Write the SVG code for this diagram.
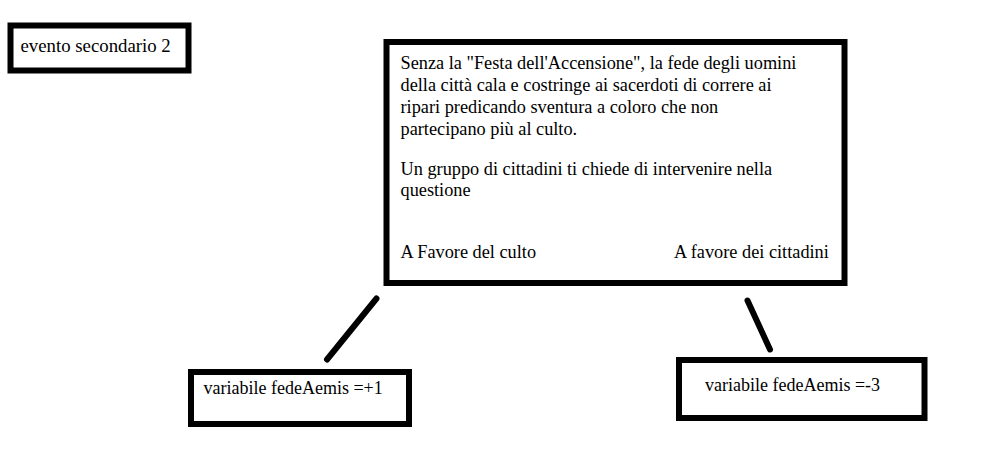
<svg xmlns="http://www.w3.org/2000/svg" width="991" height="464" viewBox="0 0 991 464">
<style>
.box{fill:#fff;stroke:#000;stroke-width:6}
text{font-family:'Liberation Serif','Times New Roman',serif;font-size:18px;fill:#000}
.m{font-size:18.3px}
.e{font-size:18.8px}
.c{stroke:#000;stroke-width:6;stroke-linecap:round;fill:none}
</style>
<rect width="991" height="464" fill="#fff"/>
<g id="n-evento">
<rect class="box" x="10.5" y="25.5" width="178" height="45"/>
<text class="e" x="20.5" y="52">evento secondario 2</text>
</g>
<g id="n-main">
<rect class="box" x="386.5" y="42" width="458" height="241"/>
<text class="m" x="400.5" y="69">Senza la "Festa dell'Accensione", la fede degli uomini</text>
<text class="m" x="400.5" y="91">della città cala e costringe ai sacerdoti di correre ai</text>
<text class="m" x="400.5" y="113">ripari predicando sventura a coloro che non</text>
<text class="m" x="400.5" y="134.5">partecipano più al culto.</text>
<text class="m" x="400.5" y="175">Un gruppo di cittadini ti chiede di intervenire nella</text>
<text class="m" x="400.5" y="196">questione</text>
<text class="m" x="400.5" y="258">A Favore del culto</text>
<text class="m" x="674" y="258">A favore dei cittadini</text>
</g>
<g id="n-plus">
<rect class="box" x="191" y="372" width="218" height="52"/>
<text x="203.5" y="394">variabile fedeAemis =+1</text>
</g>
<g id="n-minus">
<rect class="box" x="679" y="360" width="245.5" height="58"/>
<text x="705" y="390.5">variabile fedeAemis =-3</text>
</g>
<g id="connectors">
<line class="c" x1="376.5" y1="298.5" x2="327" y2="359.5"/>
<line class="c" x1="747.5" y1="300.5" x2="770" y2="349.5"/>
</g>
</svg>
